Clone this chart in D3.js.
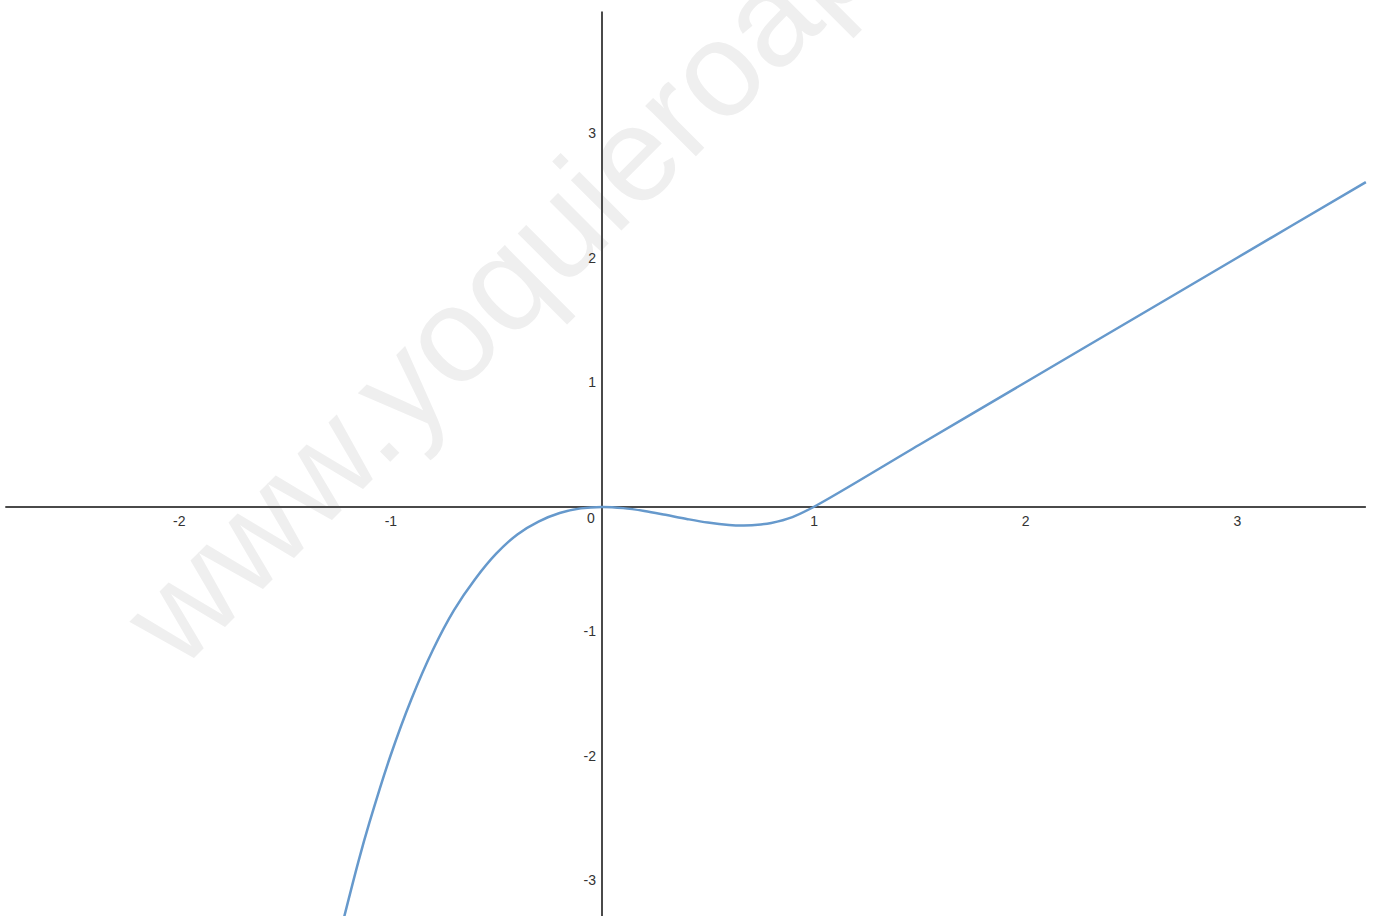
<!DOCTYPE html>
<html>
<head>
<meta charset="utf-8">
<script src="https://cdn.jsdelivr.net/npm/d3@7"></script>
<style>
  html, body { margin: 0; padding: 0; background: #fff; }
  svg { display: block; }
</style>
</head>
<body>
<div id="plot"></div>
<script>
// curve points
const xValues = [-1.23, -1.15, -1.1, -1.0, -0.9, -0.8, -0.7, -0.6, -0.5, -0.4, -0.3, -0.2, -0.1, 0,
  0.1, 0.2, 0.3, 0.4, 0.5, 0.6, 0.67, 0.75, 0.8, 0.9, 1.0, 1.5, 2.0, 2.5, 3.0, 3.61];
const yValues = [-3.37, -2.84, -2.54, -2.0, -1.54, -1.15, -0.83, -0.58, -0.375, -0.22, -0.117, -0.048, -0.011, 0,
  -0.009, -0.032, -0.063, -0.096, -0.125, -0.144, -0.148, -0.14, -0.128, -0.081, 0, 0.5, 1.0, 1.5, 2.0, 2.61];

// tick labels
const xTicks = [-2, -1, 1, 2, 3];
const yTicks = [-3, -2, -1, 1, 2, 3];
const originLabel = "0";
const watermark = "www.yoquieroaprobar.es";

const font = "'Liberation Sans', Arial, sans-serif";

function drawChart() {
  const width = 1374;
  const height = 916;

  const svg = d3.select("#plot").append("svg")
    .attr("width", width)
    .attr("height", height);

  const x = d3.scaleLinear()
    .domain([-602 / 211.6, (width - 602) / 211.6])
    .range([0, width]);

  const y = d3.scaleLinear()
    .domain([-(height - 507) / 124.5, 507 / 124.5])
    .range([height, 0]);

  // Watermark
  svg.append("text")
    .attr("transform", "translate(180,672) rotate(-45)")
    .style("font-family", font)
    .style("font-size", "135px")
    .attr("fill", "#efefef")
    .text(watermark);

  // X axis line
  svg.append("line")
    .attr("x1", x(-2.82))
    .attr("x2", x(3.61))
    .attr("y1", y(0))
    .attr("y2", y(0))
    .attr("stroke", "#4a4a4a")
    .attr("stroke-width", 2);

  // Y axis line
  svg.append("line")
    .attr("x1", x(0))
    .attr("x2", x(0))
    .attr("y1", y(3.98))
    .attr("y2", height)
    .attr("stroke", "#4a4a4a")
    .attr("stroke-width", 2);

  // X tick labels
  const gx = svg.append("g")
    .attr("transform", `translate(0,${y(0)})`)
    .call(d3.axisBottom(x).tickValues(xTicks).tickSize(0).tickPadding(9).tickFormat(d => String(d)));
  gx.select(".domain").remove();

  // Y tick labels
  const gy = svg.append("g")
    .attr("transform", `translate(${x(0)},0)`)
    .call(d3.axisLeft(y).tickValues(yTicks).tickSize(0).tickPadding(6).tickFormat(d => String(d)));
  gy.select(".domain").remove();

  svg.selectAll(".tick text")
    .style("font-family", font)
    .style("font-size", "14px")
    .attr("fill", "#333");

  // origin label
  svg.append("text")
    .attr("x", x(0) - 11)
    .attr("y", y(0) + 16)
    .style("text-anchor", "middle")
    .style("font-family", font)
    .style("font-size", "14px")
    .attr("fill", "#333")
    .text(originLabel);

  // Curve
  const points = xValues.map((v, i) => ({ x: v, y: yValues[i] }));
  svg.append("path")
    .datum(points)
    .attr("fill", "none")
    .attr("stroke", "#6699cc")
    .attr("stroke-width", 2.5)
    .attr("d", d3.line()
      .curve(d3.curveCatmullRom.alpha(0.5))
      .x(d => x(d.x))
      .y(d => y(d.y))
    );
}

drawChart();
</script>
</body>
</html>
